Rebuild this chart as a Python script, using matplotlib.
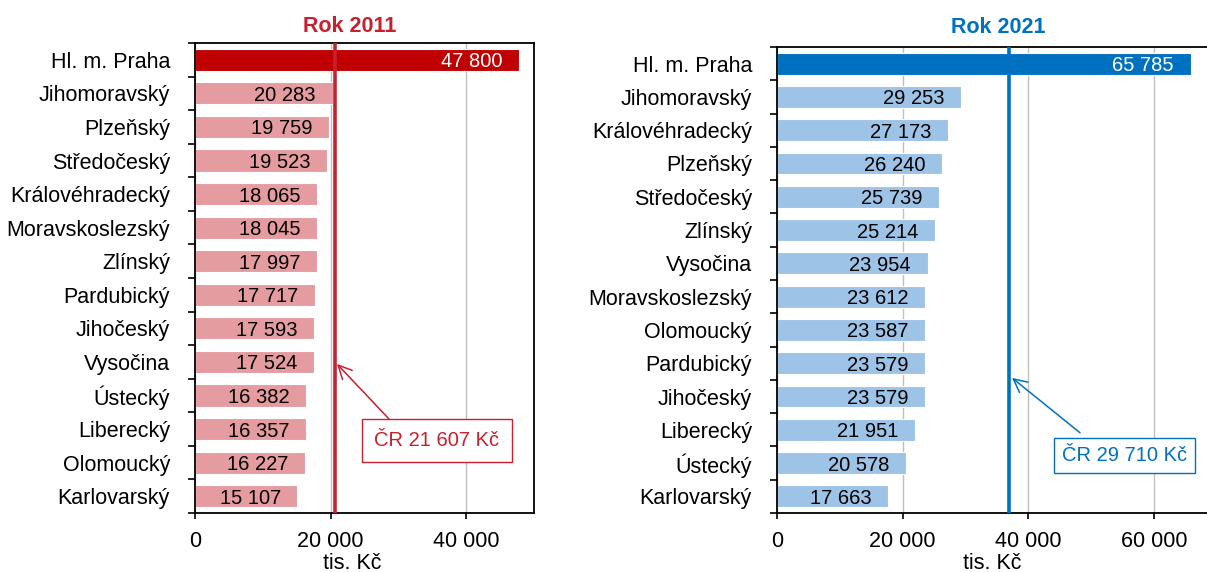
import matplotlib
matplotlib.use("Agg")
import matplotlib.pyplot as plt
from matplotlib.ticker import FixedLocator, FuncFormatter

plt.rcParams['font.family'] = ['Liberation Sans', 'DejaVu Sans']

# data
regions_2011 = ["Hl. m. Praha", "Jihomoravský", "Plzeňský", "Středočeský", "Královéhradecký",
                "Moravskoslezský", "Zlínský", "Pardubický", "Jihočeský", "Vysočina",
                "Ústecký", "Liberecký", "Olomoucký", "Karlovarský"]
values_2011 = [47800, 20283, 19759, 19523, 18065, 18045, 17997, 17717, 17593, 17524,
               16382, 16357, 16227, 15107]

regions_2021 = ["Hl. m. Praha", "Jihomoravský", "Královéhradecký", "Plzeňský", "Středočeský",
                "Zlínský", "Vysočina", "Moravskoslezský", "Olomoucký", "Pardubický",
                "Jihočeský", "Liberecký", "Ústecký", "Karlovarský"]
values_2021 = [65785, 29253, 27173, 26240, 25739, 25214, 23954, 23612, 23587, 23579,
               23579, 21951, 20578, 17663]

# vertical reference line (position as drawn) and its label
cr_line_2011 = 20650
cr_line_2021 = 36900
cr_label_2011 = "ČR 21 607 Kč"
cr_label_2021 = "ČR 29 710 Kč"

W, H = 1207, 572


def fmt(v):
    return f"{int(round(v)):,}".replace(",", " ")


def panel(ax, cats, vals, dark, light, accent, line_x, label, tip, start, text_xy,
          xmax, ticks, title, title_x, title_pad, xlabel_x, box_pad):
    n = len(cats)
    colors = [dark] + [light] * (n - 1)
    ax.barh(range(n), vals, height=0.66, color=colors, edgecolor="white", linewidth=0.8, zorder=2)
    for i, v in enumerate(vals):
        ax.annotate(fmt(v), xy=(v, i), xytext=(-12, 0), textcoords="offset points",
                    ha="right", va="center_baseline", fontsize=14.5,
                    color="white" if i == 0 else "black", zorder=4)
    ax.set_xlim(0, xmax)
    ax.set_ylim(n - 0.5, -0.5)
    ax.axvline(line_x, color=accent, lw=2.6, zorder=3)

    ax.xaxis.set_major_locator(FixedLocator(ticks))
    ax.xaxis.set_major_formatter(FuncFormatter(lambda v, p: fmt(v)))
    ax.grid(axis="x", color="#BFBFBF", lw=1.0, zorder=0)
    ax.set_axisbelow(True)
    ax.tick_params(axis="x", length=4, width=1.2, pad=9, labelsize=15.5, direction="out")

    ax.set_yticks(range(n))
    ax.set_yticklabels(cats)
    ax.set_yticks([i - 0.5 for i in range(n + 1)], minor=True)
    ax.tick_params(axis="y", which="major", length=0, pad=18, labelsize=15.5)
    ax.tick_params(axis="y", which="minor", length=5, width=1.2, direction="out")

    for s in ax.spines.values():
        s.set_linewidth(1.3)
        s.set_color("black")

    ax.annotate("", xy=tip, xytext=start,
                arrowprops=dict(arrowstyle="->", color=accent, lw=1.1,
                                mutation_scale=24, shrinkA=0, shrinkB=0), zorder=5)
    ax.text(text_xy[0], text_xy[1], label, ha="center", va="center", fontsize=14.5, color=accent,
            bbox=dict(boxstyle=f"square,pad={box_pad}", fc="white", ec=accent, lw=1.0), zorder=6)

    ax.set_title(title, color=accent, fontsize=15.5, fontweight="bold", x=title_x, pad=title_pad)
    ax.set_xlabel("tis. Kč", fontsize=15.5)
    # baseline just above the bottom edge of the figure
    h_px = ax.get_position().height * H
    ax.xaxis.set_label_coords(xlabel_x, -(569 - 513) / h_px)
    ax.xaxis.label.set_va("baseline")


fig = plt.figure(figsize=(W / 100, H / 100), dpi=100)
ax1 = fig.add_axes([195 / W, 1 - 513 / H, 339 / W, 470 / H])
ax2 = fig.add_axes([777 / W, 1 - 513 / H, 440 / W, 466 / H])

panel(ax1, regions_2011, values_2011, "#C00000", "#E49CA0", "#C8202E", cr_line_2011,
      cr_label_2011, (20944, 9.06), (28614, 10.7), (35693, 11.34),
      50000, [0, 20000, 40000], "Rok 2011", 0.457, 8, 0.463, 0.6)
panel(ax2, regions_2021, values_2021, "#0070C0", "#9DC3E6", "#0070C0", cr_line_2021,
      cr_label_2021, (37390, 9.44), (48210, 11.09), (55290, 11.76),
      70000, [0, 20000, 40000, 60000], "Rok 2021", 0.502, 10, 0.49, 0.4)

fig.savefig("out.png", dpi=100)
